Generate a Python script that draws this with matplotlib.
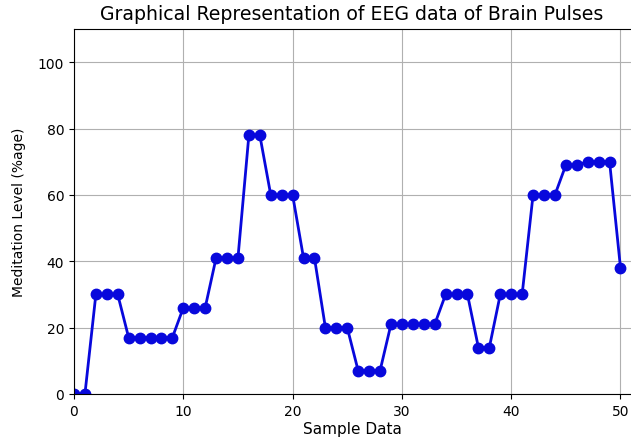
import matplotlib
matplotlib.use("Agg")
import matplotlib.pyplot as plt

sample = list(range(51))
meditation = [0, 0, 30, 30, 30, 17, 17, 17, 17, 17,
              26, 26, 26, 41, 41, 41, 78, 78, 60, 60,
              60, 41, 41, 20, 20, 20, 7, 7, 7, 21,
              21, 21, 21, 21, 30, 30, 30, 14, 14, 30,
              30, 30, 60, 60, 60, 69, 69, 70, 70, 70, 38]

fig = plt.figure(figsize=(6.31, 4.39), dpi=100)
axw = 52 * 10.93
ax = fig.add_axes([74 / 631, 1 - 395 / 439, axw / 631, (395 - 30) / 439])
ax.plot(sample, meditation, color="#0808dc", marker="o", markersize=7.5, linewidth=2)
ax.set_xlim(0, 52)
ax.set_ylim(0, 110)
ax.set_xticks([0, 10, 20, 30, 40, 50])
ax.set_yticks([0, 20, 40, 60, 80, 100])
ax.grid(True, color="#b0b0b0", linewidth=0.8)
ax.set_axisbelow(True)
fig.text(352 / 631, 1 - 15 / 439, "Graphical Representation of EEG data of Brain Pulses",
         fontsize=13.6, ha="center", va="center")
fig.text(352 / 631, 1 - 430 / 439, "Sample Data", fontsize=11, ha="center", va="center")
ax.set_ylabel("Meditation Level (%age)", fontsize=10)
ax.yaxis.set_label_coords((26 - 74) / axw, 0.5)
ax.tick_params(labelsize=10)
fig.savefig("out.png", dpi=100)
